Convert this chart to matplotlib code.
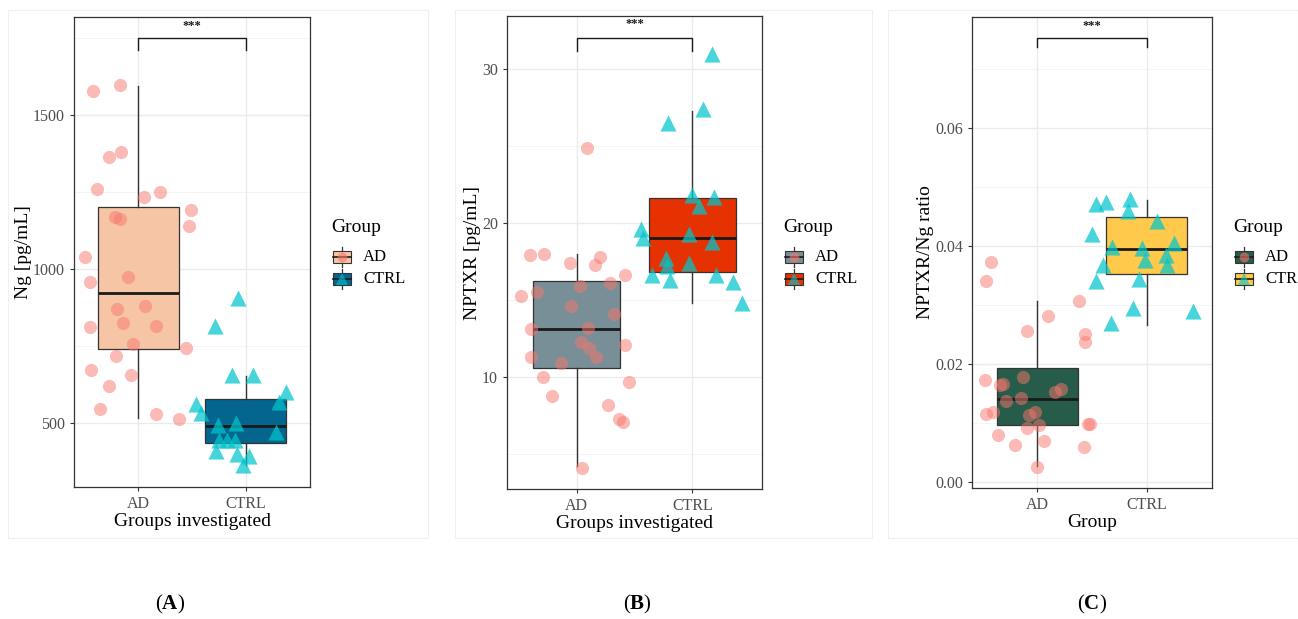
import matplotlib
matplotlib.use("Agg")
import matplotlib.pyplot as plt
from matplotlib.lines import Line2D
from matplotlib.patches import Rectangle
import numpy as np

plt.rcParams["font.family"] = ["Liberation Serif", "DejaVu Serif"]
plt.rcParams["mathtext.fontset"] = "custom"
plt.rcParams["mathtext.rm"] = "Liberation Serif"
plt.rcParams["mathtext.bf"] = "Liberation Serif:bold"

W, H = 1298, 619

groups = ["AD", "CTRL"]

# ---- Panel A: Ng [pg/mL] ----
a_ad_vals = [1579, 1596, 1365, 1381, 1261, 1234, 1250, 1170, 1162, 1192, 1140, 1040,
             959, 973, 869, 881, 811, 824, 815, 756, 743, 717, 672, 655, 620, 544, 529, 514]
a_ad_jit = [-0.42, -0.17, -0.27, -0.16, -0.39, 0.05, 0.20, -0.22, -0.17, 0.49, 0.47, -0.50,
            -0.45, -0.10, -0.20, 0.06, -0.45, -0.14, 0.16, -0.05, 0.44, -0.21, -0.44, -0.07,
            -0.27, -0.36, 0.16, 0.38]
a_ctrl_vals = [905, 815, 656, 656, 602, 562, 531, 569, 493, 501, 469, 443, 443, 443,
               410, 399, 393, 364]
a_ctrl_jit = [-0.07, -0.29, -0.13, 0.07, 0.38, -0.46, -0.42, 0.31, -0.26, -0.09, 0.28,
              -0.25, -0.17, -0.10, -0.28, -0.08, 0.03, -0.02]
# box stats: whislo, q1, med, q3, whishi
a_box = [[516, 739, 921, 1202, 1594], [364, 436, 490, 578, 652]]

# ---- Panel B: NPTXR [pg/mL] ----
b_ad_vals = [24.9, 17.9, 17.97, 17.4, 17.8, 17.3, 16.6, 15.26, 15.5, 15.9, 16.1, 14.6,
             14.1, 13.1, 13.2, 12.3, 11.9, 12.1, 11.3, 11.3, 10.9, 10.0, 9.7, 8.8, 8.2,
             7.3, 7.05, 4.1]
b_ad_jit = [0.09, -0.40, -0.28, -0.06, 0.20, 0.16, 0.42, -0.48, -0.34, 0.03, 0.29, -0.05,
            0.32, -0.39, 0.10, 0.04, 0.11, 0.42, -0.39, 0.17, -0.13, -0.29, 0.45, -0.21,
            0.27, 0.37, 0.40, 0.05]
b_ctrl_vals = [31.0, 27.4, 26.5, 21.8, 21.7, 21.1, 19.6, 19.05, 19.3, 18.75, 17.7, 17.4,
               17.2, 16.6, 16.3, 16.6, 16.2, 14.8]
b_ctrl_jit = [0.17, 0.09, -0.21, 0.00, 0.19, 0.06, -0.44, -0.43, -0.03, 0.17, -0.23, -0.03,
              -0.22, -0.35, -0.19, 0.20, 0.35, 0.43]
b_box = [[4.2, 10.6, 13.1, 16.25, 18.0], [14.8, 16.8, 19.0, 21.65, 27.3]]

# ---- Panel C: NPTXR/Ng ratio ----
c_ad_vals = [0.0372, 0.0340, 0.0307, 0.0281, 0.0256, 0.0251, 0.0238, 0.0172, 0.0164,
             0.0166, 0.0178, 0.0153, 0.0157, 0.0138, 0.0142, 0.0116, 0.0119, 0.0114,
             0.0119, 0.0097, 0.0091, 0.0098, 0.0099, 0.0080, 0.0070, 0.0063, 0.0059, 0.0026]
c_ad_jit = [-0.43, -0.47, 0.38, 0.10, -0.10, 0.44, 0.44, -0.48, -0.34, -0.32, -0.13, 0.16,
            0.22, -0.29, -0.15, -0.47, -0.41, -0.08, -0.02, 0.01, -0.10, 0.48, 0.46, -0.36,
            0.06, -0.21, 0.43, 0.00]
c_ctrl_vals = [0.0471, 0.0475, 0.0479, 0.0460, 0.0420, 0.0443, 0.0396, 0.0399, 0.0405,
               0.0385, 0.0377, 0.0368, 0.0368, 0.0341, 0.0344, 0.0294, 0.0290, 0.0269]
c_ctrl_jit = [-0.46, -0.37, -0.15, -0.17, -0.50, 0.10, -0.04, -0.32, 0.25, 0.18, -0.01,
              0.19, -0.40, -0.46, -0.07, -0.12, 0.43, -0.33]
c_box = [[0.0027, 0.0097, 0.0140, 0.0193, 0.0307], [0.0266, 0.0353, 0.0395, 0.0449, 0.0478]]

panels = [
    dict(rect=(74, 17, 310, 487), ylim=(292, 1818), yticks=[500, 1000, 1500], fmt="{:.0f}",
         ylabel="Ng [pg/mL]", xlabel="Groups investigated",
         ad=(a_ad_vals, a_ad_jit), ctrl=(a_ctrl_vals, a_ctrl_jit), box=a_box,
         fills=["#F6C5A6", "#04668E"], bracket=(1750, 1711, 1788),
         legend=(331, 227, ["AD", "CTRL"]), tag="A", tagx=170),
    dict(rect=(507, 16, 762, 489), ylim=(2.73, 33.44), yticks=[10, 20, 30], fmt="{:.0f}",
         ylabel="NPTXR [pg/mL]", xlabel="Groups investigated",
         ad=(b_ad_vals, b_ad_jit), ctrl=(b_ctrl_vals, b_ctrl_jit), box=b_box,
         fills=["#788F97", "#E63200"], bracket=(32.03, 31.2, 32.95),
         legend=(783, 227, ["AD", "CTRL"]), tag="B", tagx=637),
    dict(rect=(972, 17, 1212, 488), ylim=(-0.00102, 0.0788), yticks=[0.0, 0.02, 0.04, 0.06],
         fmt="{:.2f}", ylabel="NPTXR/Ng ratio", xlabel="Group",
         ad=(c_ad_vals, c_ad_jit), ctrl=(c_ctrl_vals, c_ctrl_jit), box=c_box,
         fills=["#285C4A", "#FFC94B"], bracket=(0.0752, 0.0738, 0.0773),
         legend=(1233, 227, ["AD", "CTR"]), tag="C", tagx=1092),
]

PT_AD = "#F8766D"
PT_CTRL = "#00C5CD"
EDGE = "#333333"
GRID = "#EBEBEB"


def fx(x):
    return x / W


def fy(y):
    return 1 - y / H


fig = plt.figure(figsize=(W / 100, H / 100), dpi=100)

# faint sub-figure frames
for x0, x1 in [(8, 428), (455, 872), (888, 1298)]:
    fig.add_artist(Rectangle((fx(x0), fy(538)), fx(x1 - x0), (538 - 10) / H,
                             transform=fig.transFigure, fill=False, ec="#F0F0F0", lw=0.8))

for p in panels:
    l, t, r, b = p["rect"]
    ax = fig.add_axes([fx(l), fy(b), fx(r - l), (b - t) / H])
    ax.set_xlim(0.4, 2.6)
    ax.set_ylim(*p["ylim"])

    # grid like theme_bw
    yt = p["yticks"]
    step = yt[1] - yt[0]
    minors = [v + step / 2 for v in [yt[0] - step] + yt]
    for v in minors:
        ax.axhline(v, color="#F2F2F2", lw=0.6, zorder=0)
    for v in yt:
        ax.axhline(v, color=GRID, lw=1.0, zorder=0)
    for v in [1, 2]:
        ax.axvline(v, color=GRID, lw=1.0, zorder=0)

    stats = []
    for i, (lo, q1, med, q3, hi) in enumerate(p["box"]):
        stats.append(dict(whislo=lo, q1=q1, med=med, q3=q3, whishi=hi, fliers=[], label=groups[i]))
    bp = ax.bxp(stats, positions=[1, 2], widths=0.75, patch_artist=True, showcaps=False,
                showfliers=False,
                boxprops=dict(edgecolor=EDGE, linewidth=0.9),
                whiskerprops=dict(color=EDGE, linewidth=1.0),
                medianprops=dict(color="#1A1A1A", linewidth=2.0), zorder=2)
    for patch, fc in zip(bp["boxes"], p["fills"]):
        patch.set_facecolor(fc)

    ad_v, ad_j = p["ad"]
    ct_v, ct_j = p["ctrl"]
    ax.scatter(1 + np.array(ad_j), ad_v, s=90, marker="o", color=PT_AD, alpha=0.5,
               linewidths=0, zorder=3)
    ax.scatter(2 + np.array(ct_j), ct_v, s=135, marker="^", color=PT_CTRL, alpha=0.72,
               linewidths=0, zorder=3)

    # significance bracket
    yb, ytip, ys = p["bracket"]
    ax.plot([1, 1, 2, 2], [ytip, yb, yb, ytip], color="#1A1A1A", lw=1.0, zorder=4,
            clip_on=False)
    ax.text(1.5, ys, "***", ha="center", va="center", fontsize=9, fontweight="bold",
            color="#1A1A1A")

    ax.set_xticks([1, 2])
    ax.set_xticklabels(groups)
    ax.set_yticks(yt)
    ax.set_yticklabels([p["fmt"].format(v) for v in yt])
    ax.tick_params(axis="both", colors="#333333", labelcolor="#4D4D4D", labelsize=11.5,
                   length=3, width=0.8)
    for s in ax.spines.values():
        s.set_color(EDGE)
        s.set_linewidth(0.9)
    ax.set_ylabel(p["ylabel"], fontsize=14, labelpad=1)
    ax.set_xlabel(p["xlabel"], fontsize=14, labelpad=1)

    # legend drawn by hand (ggplot-style keys)
    lx, ly, labels = p["legend"]
    fig.text(fx(lx), fy(ly), "Group", fontsize=14, ha="left", va="center")
    for k, (lab, fc, pc, mk) in enumerate(zip(labels, p["fills"], [PT_AD, PT_CTRL], ["o", "^"])):
        cy = ly + 30 + k * 22
        kx0, kx1 = lx + 2, lx + 20
        cx = (kx0 + kx1) / 2
        fig.add_artist(Rectangle((fx(kx0), fy(cy + 6)), fx(kx1 - kx0), 12 / H,
                                 transform=fig.transFigure, fc=fc, ec=EDGE, lw=0.8))
        fig.add_artist(Line2D([fx(kx0), fx(kx1)], [fy(cy), fy(cy)], transform=fig.transFigure,
                              color="#1A1A1A", lw=1.2))
        for y0, y1 in [(cy - 10, cy - 6), (cy + 6, cy + 10)]:
            fig.add_artist(Line2D([fx(cx), fx(cx)], [fy(y0), fy(y1)],
                                  transform=fig.transFigure, color=EDGE, lw=0.9))
        fig.add_artist(Line2D([fx(cx)], [fy(cy)], transform=fig.transFigure, marker=mk,
                              markersize=7 if mk == "o" else 8, color=pc, alpha=0.6, lw=0,
                              markeredgewidth=0))
        fig.text(fx(kx1 + 12), fy(cy), lab, fontsize=12, ha="left", va="center")

    fig.text(fx(p["tagx"]), fy(604), r"($\mathbf{" + p["tag"] + r"}$)", fontsize=15,
             ha="center", va="center")

fig.savefig("out.png", dpi=100)
